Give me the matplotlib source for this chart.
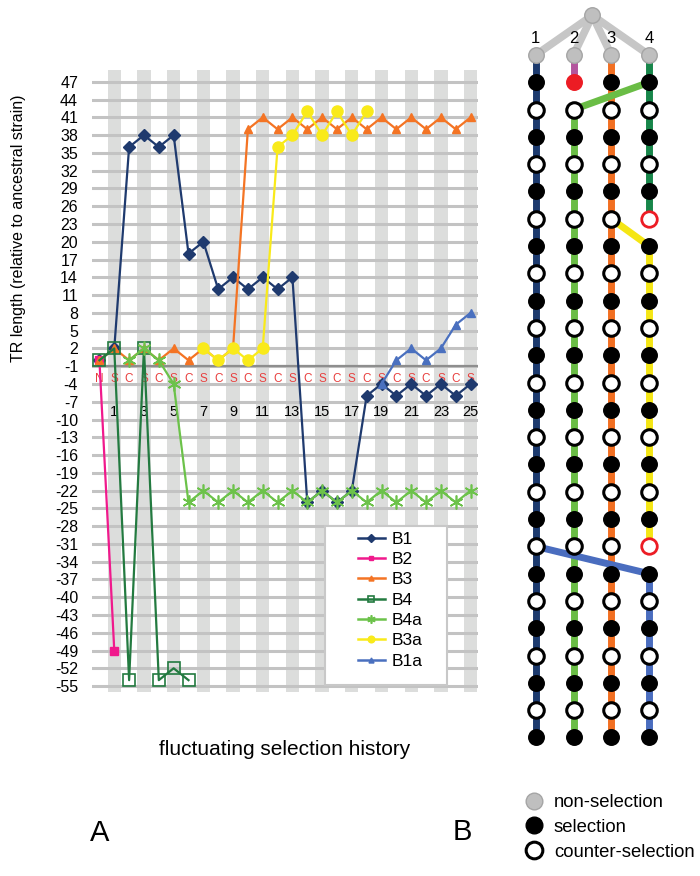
import numpy as np
import matplotlib
matplotlib.use("Agg")
import matplotlib.pyplot as plt
from matplotlib.lines import Line2D
from matplotlib.patches import Rectangle

plt.rcParams['font.family'] = ['Liberation Sans', 'DejaVu Sans']
plt.rcParams['axes.unicode_minus'] = False
nan = np.nan

# ---- panel A data: TR length relative to ancestral strain, per selection step
history = ["N"] + ["S", "C"] * 12 + ["S"]
steps = np.arange(len(history))
step_numbers = np.arange(1, 26, 2)
yticks = np.arange(-55, 48, 3)

B1 = [0, 2, 36, 38, 36, 38, 18, 20, 12, 14, 12, 14, 12, 14, -24, -22, -24, -22, -6, -4, -6, -4, -6, -4, -6, -4]
B2 = [0, -49] + [nan] * 24
B3 = [0, 2, 0, 2, 0, 2, 0, 2, 0, 2, 39, 41, 39, 41, 39, 41, 39, 41, 39, 41, 39, 41, 39, 41, 39, 41]
B4 = [0, 2, -54, 2, -54, -52, -54] + [nan] * 19
B4a = [nan, nan, 0, 2, 0, -4, -24, -22, -24, -22, -24, -22, -24, -22, -24, -22, -24, -22, -24, -22, -24, -22, -24, -22, -24, -22]
B3a = [nan] * 7 + [2, 0, 2, 0, 2, 36, 38, 42, 38, 42, 38, 42] + [nan] * 7
B1a = [nan] * 19 + [-4, 0, 2, 0, 2, 6, 8]

series = [("B1", B1), ("B2", B2), ("B3", B3), ("B4", B4), ("B4a", B4a), ("B3a", B3a), ("B1a", B1a)]
styles = {
    "B1": dict(color="#1f3a6e", marker="D", ms=6.5),
    "B2": dict(color="#f0198c", marker="s", ms=6),
    "B3": dict(color="#f47424", marker="^", ms=6),
    "B4": dict(color="#237a40", marker="s", ms=8, mfc="none", mew=1.2),
    "B4a": dict(color="#6cc24a", marker=(6, 2, 0), ms=10, mew=1.2),
    "B3a": dict(color="#f9ea1a", marker="o", ms=8),
    "B1a": dict(color="#4a70bf", marker="^", ms=6),
}

# ---- panel B data: lineage tree
lineages = [1, 2, 3, 4]
root = (2.5, -1.45)
# (colour, start (lineage, step), end (lineage, step))
branches = [
    ("#1c3a6e", (1, 0), (1, 25)),
    ("#b3559d", (2, 0), (2, 1)),
    ("#6abd45", (2, 2), (2, 25)),
    ("#f26f21", (3, 0), (3, 25)),
    ("#17864a", (4, 0), (4, 6)),
    ("#f5e614", (4, 7), (4, 18)),
    ("#4a6dbf", (4, 19), (4, 25)),
]
transfers = [
    ("#6abd45", (4, 1), (2, 2)),
    ("#f5e614", (3, 6), (4, 7)),
    ("#4a6dbf", (1, 18), (4, 19)),
]
extinct = [(2, 1), (4, 6), (4, 18)]

fig = plt.figure(figsize=(7, 8.76), dpi=100)

# ================= panel A
ax = fig.add_axes([92 / 700, 1 - 692 / 876, 386 / 700, 622 / 876])
ax.set_xlim(-0.5, 25.5)
ax.set_ylim(-56, 49)
for i in steps[1::2]:
    ax.axvspan(i - 0.45, i + 0.45, color="#dcdddc", lw=0, zorder=0)
ax.set_yticks(yticks)
ax.grid(axis="y", color="#c3c3c3", lw=2.2, zorder=1)
ax.set_axisbelow(True)
ax.axhline(-1, color="#8e8e8e", lw=1.6, zorder=1.5)
ax.set_xticks([])
ax.tick_params(axis="y", length=0, pad=10, labelsize=11.5)
for s in ax.spines.values():
    s.set_visible(False)

for i, h in enumerate(history):
    ax.text(i, -3.2, h, color="#e8403f", ha="center", va="center", fontsize=8.5, zorder=2)
for n in step_numbers:
    ax.text(n, -8.7, str(n), ha="center", va="center", fontsize=10.5, zorder=2)

for name, vals in series:
    ax.plot(steps, vals, lw=1.6, zorder=3, label=name, **styles[name])

ax.add_patch(Rectangle((0.604, 0.011), 0.316, 0.256, transform=ax.transAxes,
                       facecolor="white", edgecolor="#c8c8c8", lw=1.5, zorder=4))
handles = []
for name, _ in series:
    st = dict(styles[name])
    st["ms"] = st["ms"] * 0.6
    handles.append(Line2D([], [], lw=1.8, **st))
leg = ax.legend(handles, [n for n, _ in series], loc="upper left", bbox_to_anchor=(0.689, 0.258),
                frameon=False, fontsize=12.5, handlelength=1.55, handletextpad=0.4,
                labelspacing=0.3, borderpad=0, borderaxespad=0)
leg.set_zorder(5)

ax.set_ylabel("TR length (relative to ancestral strain)", fontsize=11.5)
ax.yaxis.set_label_coords(-0.17, 0.746)
ax.set_xlabel("fluctuating selection history", fontsize=15)
ax.xaxis.set_label_coords(0.5, -0.077)

# ================= panel B
axB = fig.add_axes([516.8 / 700, 1 - 764.8 / 876, 151.2 / 700, 764.4 / 876])
axB.set_xlim(0.5, 4.5)
axB.set_ylim(26, -2)
axB.axis("off")

for k in lineages:
    axB.plot([root[0], k], [root[1], 0], color="#c6c6c6", lw=5.5, solid_capstyle="round", zorder=1)
    axB.text(k, -0.62, str(k), ha="center", va="center", fontsize=12)
for col, (x0, y0), (x1, y1) in branches:
    axB.plot([x0, x1], [y0, y1], color=col, lw=5, solid_capstyle="butt", zorder=1)
for col, (x0, y0), (x1, y1) in transfers:
    axB.plot([x0, x1], [y0, y1], color=col, lw=5, solid_capstyle="butt", zorder=2)

node_kw = dict(s=125, zorder=3)
axB.scatter([root[0]], [root[1]], c="#bfbfbf", edgecolors="#a5a5a5", linewidths=1, **node_kw)
for k in lineages:
    for i, h in enumerate(history):
        if h == "N":
            axB.scatter(k, i, c="#bfbfbf", edgecolors="#a5a5a5", linewidths=1, **node_kw)
        elif (k, i) in extinct:
            if h == "S":
                axB.scatter(k, i, c="#ec1c24", edgecolors="#ec1c24", linewidths=1, **node_kw)
            else:
                axB.scatter(k, i, c="white", edgecolors="#ec1c24", linewidths=2, **node_kw)
        elif h == "S":
            axB.scatter(k, i, c="black", edgecolors="black", linewidths=1, **node_kw)
        else:
            axB.scatter(k, i, c="white", edgecolors="black", linewidths=2.2, **node_kw)

bh = [Line2D([], [], ls="none", marker="o", ms=12, mfc="#bfbfbf", mec="#a5a5a5", mew=1),
      Line2D([], [], ls="none", marker="o", ms=12, mfc="black", mec="black", mew=1),
      Line2D([], [], ls="none", marker="o", ms=12, mfc="white", mec="black", mew=2.2)]
axB.legend(bh, ["non-selection", "selection", "counter-selection"], loc="upper left",
           bbox_to_anchor=(0.749, 0.0936), bbox_transform=fig.transFigure, frameon=False,
           fontsize=13.3, handlelength=1.0, handletextpad=0.6, labelspacing=0.42,
           borderpad=0, borderaxespad=0)

fig.text(100 / 700, 1 - 833 / 876, "A", fontsize=21, ha="center", va="center")
fig.text(462 / 700, 1 - 832 / 876, "B", fontsize=21, ha="center", va="center")

fig.savefig("out.png", dpi=100)
